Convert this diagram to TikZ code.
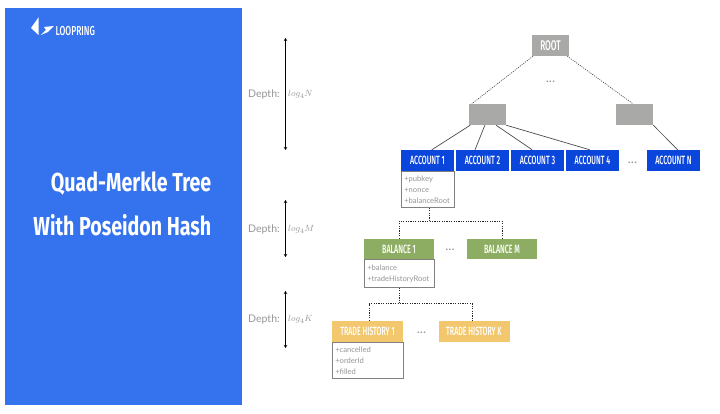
\documentclass[tikz,border=0pt]{standalone}
\usepackage{fontspec}
\usetikzlibrary{arrows.meta,calc}
\setmainfont{Lato}
\newfontfamily\din[FakeStretch=0.59]{Fira Sans Medium}
\newfontfamily\dintitle[FakeStretch=0.755]{Fira Sans}
\newfontfamily\dinlogo[FakeStretch=0.65]{Fira Sans Medium}
\definecolor{panel}{HTML}{3573EE}
\definecolor{acct}{HTML}{0A45DC}
\definecolor{bal}{HTML}{8DAE62}
\definecolor{trade}{HTML}{F2C76E}
\definecolor{grey}{HTML}{A9A9A7}
\definecolor{txt}{HTML}{969696}
\tikzset{
  x=1pt,y=-1pt,
  head/.style={inner sep=0pt,text=white,font=\din\fontsize{12}{14}\selectfont,text depth=0pt},
  acbox/.style={head,fill=acct,minimum width=53pt,minimum height=21pt},
  balbox/.style={head,fill=bal,minimum width=70pt,minimum height=20pt},
  trbox/.style={head,fill=trade,minimum width=71pt,minimum height=21pt},
  greybox/.style={head,fill=grey,minimum width=37pt,minimum height=21pt},
  attr/.style={draw=black!50,line width=.6pt,inner sep=0pt,anchor=north west,text=txt,
    font=\fontsize{7.6}{11}\selectfont,align=left,text width=#1,inner xsep=3.2pt},
  solidlink/.style={draw=black!70,line width=.7pt},
  dotlink/.style={draw=black!85,line width=.8pt,dash pattern=on 1.2pt off 1.2pt},
  thinlink/.style={draw=black!75,line width=.6pt,dash pattern=on 1.1pt off 1.1pt},
  depth/.style={{Stealth[length=3pt,width=3.5pt]}-{Stealth[length=3pt,width=3.5pt]},line width=1pt},
  dlabel/.style={text=txt,font=\fontsize{10.5}{12}\selectfont,inner sep=0pt,anchor=west},
  mlabel/.style={text=txt,font=\fontsize{9.5}{12}\selectfont,inner sep=0pt,anchor=west},
  dots/.style={text=txt,font=\fontsize{13}{14}\selectfont,inner sep=0pt},
  title/.style={text=white,inner sep=0pt,anchor=east,font=\dintitle\bfseries\fontsize{26}{30}\selectfont}
}
\begin{document}
\begin{tikzpicture}
\useasboundingbox (0,0) rectangle (720,414);
\fill[white] (0,0) rectangle (720,414);
\fill[panel] (5,8) rectangle (242,405);
% logo
\fill[white] (31,28) -- (38.5,17.5) -- (38.5,35) -- cycle;
\fill[white] (44,27) -- (54,26) -- (48,32) -- (41,35) -- (46,30) -- cycle;
\node[text=white,inner sep=0pt,anchor=west,font=\dinlogo\fontsize{13}{14}\selectfont] (logo) at (55.5,31) {LOOPRING};
\node[title] (t1) at (211.5,184) {Quad-Merkle Tree};
\node[title] (t2) at (211.5,225) {With Poseidon Hash};
% nodes
\node[greybox,font=\din\fontsize{14}{14}\selectfont] (root) at (550.5,45.5) {ROOT};
\node[greybox] (g1) at (487.5,114.5) {};
\node[greybox] (g2) at (634.5,114.5) {};
\node[acbox] (a1) at (427.5,160.5) {ACCOUNT 1};
\node[acbox] (a2) at (482.5,160.5) {ACCOUNT 2};
\node[acbox] (a3) at (537.5,160.5) {ACCOUNT 3};
\node[acbox] (a4) at (592.5,160.5) {ACCOUNT 4};
\node[acbox] (an) at (673.5,160.5) {ACCOUNT N};
\node[balbox] (b1) at (399,249) {BALANCE 1};
\node[balbox] (bm) at (502,249) {BALANCE M};
\node[trbox] (t1b) at (367.5,331.5) {TRADE HISTORY 1};
\node[trbox] (tk) at (474,331.5) {TRADE HISTORY K};
% attribute boxes
\node[attr=46.6pt,minimum height=36pt] (pa) at (a1.south west) {+pubkey\\+nonce\\+balanceRoot};
\node[attr=63.6pt,minimum height=28pt] (pb) at (b1.south west) {+balance\\+tradeHistoryRoot};
\node[attr=64.6pt,minimum height=36pt] (pt) at (t1b.south west) {+cancelled\\+orderId\\+filled};
% ellipses
\node[dots] (d1) at (550.5,82) {...};
\node[dots] (d2) at (632.5,163) {...};
\node[dots] (d3) at (450,250) {...};
\node[dots] (d4) at (421.5,333) {...};
% solid connectors
\draw[solidlink] ($(g1.south west)!.04!(g1.south east)$) -- ($(a1.north west)!.58!(a1.north east)$);
\draw[solidlink] ($(g1.south west)!.43!(g1.south east)$) -- ($(a2.north west)!.36!(a2.north east)$);
\draw[solidlink] ($(g1.south west)!.73!(g1.south east)$) -- ($(a3.north west)!.40!(a3.north east)$);
\draw[solidlink] (g1.south east) -- ($(a4.north west)!.45!(a4.north east)$);
\draw[solidlink] (g2.south east) -- ($(an.north west)!.58!(an.north east)$);
% dotted connectors
\draw[thinlink] ($(root.south west)!.03!(root.south east)$) -- ($(g1.north west)!.08!(g1.north east)$);
\draw[thinlink] ($(root.south west)!.95!(root.south east)$) -- ($(g2.north west)!.46!(g2.north east)$);
\coordinate (j1) at ($(pa.south west)!.53!(pa.south east)$);
\coordinate (j2) at ($(pb.south west)!.51!(pb.south east)$);
\draw[dotlink] (j1) -- ++(0,13.5) coordinate (c1);
\draw[dotlink] (b1.north) |- (c1) -| (bm.north);
\draw[dotlink] (j2) -- ++(0,16) coordinate (c2);
\draw[dotlink] ([xshift=1.5pt]t1b.north) |- (c2) -| ([xshift=-1.5pt]tk.north);
% depth arrows
\coordinate (u1) at (285.5,38); \coordinate (v1) at (285.5,150);
\coordinate (u2) at (285.5,200); \coordinate (v2) at (285.5,257);
\coordinate (u3) at (285.5,291); \coordinate (v3) at (285.5,348);
\draw[depth] (u1) -- (v1);
\draw[depth] (u2) -- (v2);
\draw[depth] (u3) -- (v3);
\node[dlabel] (l1) at (248,95) {Depth:};
\node[dlabel] (l2) at (248,230) {Depth:};
\node[dlabel] (l3) at (248,320) {Depth:};
\node[mlabel] (m1) at (288,94.5) {$log_4N$};
\node[mlabel] (m2) at (288,229.5) {$log_4M$};
\node[mlabel] (m3) at (288,319.5) {$log_4K$};
\end{tikzpicture}
\end{document}
